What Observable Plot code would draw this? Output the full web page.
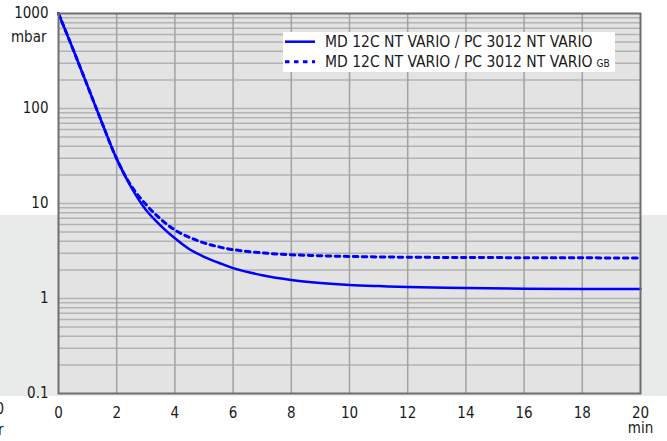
<!DOCTYPE html>
<html>
<head>
<meta charset="utf-8">
<script src="https://cdn.jsdelivr.net/npm/d3@7"></script>
<script src="https://cdn.jsdelivr.net/npm/@observablehq/plot@0.6"></script>
<style>
  html, body { margin: 0; padding: 0; background: #ffffff; }
  #wrap { position: relative; width: 667px; height: 441px; overflow: hidden; font-family: "DejaVu Sans Condensed", "DejaVu Sans", sans-serif; }
  #band { position: absolute; left: 0; top: 215px; width: 667px; height: 181px; background: #e9eaea; }
  #chart { position: absolute; left: 0; top: 0; }
  #legend { position: absolute; left: 283px; top: 32px; width: 332px; height: 40px; background: #ffffff; }
</style>
</head>
<body>
<div id="wrap">
  <div id="band"></div>
  <div id="chart"></div>
  <div id="legend"></div>
</div>
<script>
// ---- data ----
const seriesNames = ["MD 12C NT VARIO / PC 3012 NT VARIO", "MD 12C NT VARIO / PC 3012 NT VARIO"];
const seriesSuffix = ["", "GB"];
const timeMin = [0, 0.5, 1, 1.5, 2, 2.5, 3, 3.5, 4, 4.5, 5, 5.5, 6, 7, 8, 9, 10, 11, 12, 14, 16, 18, 20];
const pressureSolid = [1000, 420, 172, 70, 29.5, 14.8, 8.6, 5.9, 4.3, 3.3, 2.75, 2.38, 2.09, 1.76, 1.57, 1.46, 1.39, 1.35, 1.32, 1.29, 1.27, 1.26, 1.26];
const pressureDashed = [1000, 420, 172, 70, 29.5, 15.3, 9.8, 6.9, 5.25, 4.4, 3.85, 3.5, 3.27, 3.02, 2.89, 2.82, 2.77, 2.74, 2.72, 2.70, 2.69, 2.68, 2.67];
const xTicks = [0, 2, 4, 6, 8, 10, 12, 14, 16, 18, 20];
const yTicks = [0.1, 1, 10, 100, 1000];
const xUnit = "min";
const yUnit = "mbar";

// minor log gridlines (1..9 x each decade)
const yGrid = [];
for (let k = 0; k < yTicks.length - 1; k++) {
  for (let m = 1; m <= 9; m++) {
    const v = yTicks[k] * m;
    if (k > 0 || m > 1) yGrid.push(v);
  }
}

const solid = timeMin.map((t, i) => ({t, p: pressureSolid[i]}));
const dashed = timeMin.map((t, i) => ({t, p: pressureDashed[i]}));
const blue = "#0000ff";
const dash = "4.5,4.5";

const chart = Plot.plot({
  width: 667,
  height: 441,
  marginLeft: 58,
  marginRight: 27,
  marginTop: 13,
  marginBottom: 48,
  style: {
    background: "transparent",
    fontFamily: "'DejaVu Sans Condensed', 'DejaVu Sans', sans-serif",
    fontSize: "15px",
    color: "#1a1a1a"
  },
  x: {domain: [0, 20], ticks: xTicks, tickSize: 0, tickPadding: 14, label: null},
  y: {type: "log", domain: [0.1, 1000], ticks: yTicks, tickFormat: d => String(d), tickSize: 0, tickPadding: 10, label: null},
  marks: [
    Plot.frame({fill: "#e3e3e3"}),
    Plot.ruleY(yGrid, {stroke: "#b3b3b3", strokeWidth: 1.5}),
    Plot.ruleX(xTicks.slice(1, -1), {stroke: "#a2a2a2", strokeWidth: 1.5}),
    Plot.line(dashed, {x: "t", y: "p", stroke: blue, strokeWidth: 3, strokeDasharray: dash, curve: "catmull-rom"}),
    Plot.line(solid, {x: "t", y: "p", stroke: blue, strokeWidth: 2.5, curve: "catmull-rom"}),
    Plot.frame({stroke: "#6e6e6e", strokeWidth: 2}),
    Plot.text([yUnit], {text: d => d, frameAnchor: "top-left", textAnchor: "end", dx: -12, dy: 18, fill: "#1a1a1a"}),
    Plot.text([xUnit], {text: d => d, frameAnchor: "bottom-right", textAnchor: "middle", dy: 39, fill: "#1a1a1a"}),
    Plot.text(["0"], {text: d => d, frameAnchor: "bottom-left", textAnchor: "end", dx: -54.5, dy: 20.2, fill: "#1a1a1a"}),
    Plot.text(["r"], {text: d => d, frameAnchor: "bottom-left", textAnchor: "end", dx: -55, dy: 41, fill: "#1a1a1a"})
  ]
});
document.getElementById("chart").appendChild(chart);

// ---- legend ----
const ns = "http://www.w3.org/2000/svg";
const lg = document.createElementNS(ns, "svg");
lg.setAttribute("width", 332);
lg.setAttribute("height", 40);
const rows = [{y: 9.7, dashed: false}, {y: 29.7, dashed: true}];
rows.forEach((r, i) => {
  const ln = document.createElementNS(ns, "line");
  ln.setAttribute("x1", 2); ln.setAttribute("x2", 32);
  ln.setAttribute("y1", r.y); ln.setAttribute("y2", r.y);
  ln.setAttribute("stroke", blue);
  ln.setAttribute("stroke-width", r.dashed ? 3 : 2.5);
  if (r.dashed) ln.setAttribute("stroke-dasharray", dash);
  lg.appendChild(ln);
  const tx = document.createElementNS(ns, "text");
  tx.setAttribute("x", 42);
  tx.setAttribute("y", r.y + 5);
  tx.setAttribute("font-family", "'DejaVu Sans Condensed', 'DejaVu Sans', sans-serif");
  tx.setAttribute("font-size", "15.5px");
  tx.setAttribute("fill", "#1a1a1a");
  tx.textContent = seriesNames[i];
  if (seriesSuffix[i]) {
    const ts = document.createElementNS(ns, "tspan");
    ts.setAttribute("font-size", "10px");
    ts.setAttribute("dx", 4);
    ts.textContent = seriesSuffix[i];
    tx.appendChild(ts);
  }
  lg.appendChild(tx);
});
document.getElementById("legend").appendChild(lg);
</script>
</body>
</html>
